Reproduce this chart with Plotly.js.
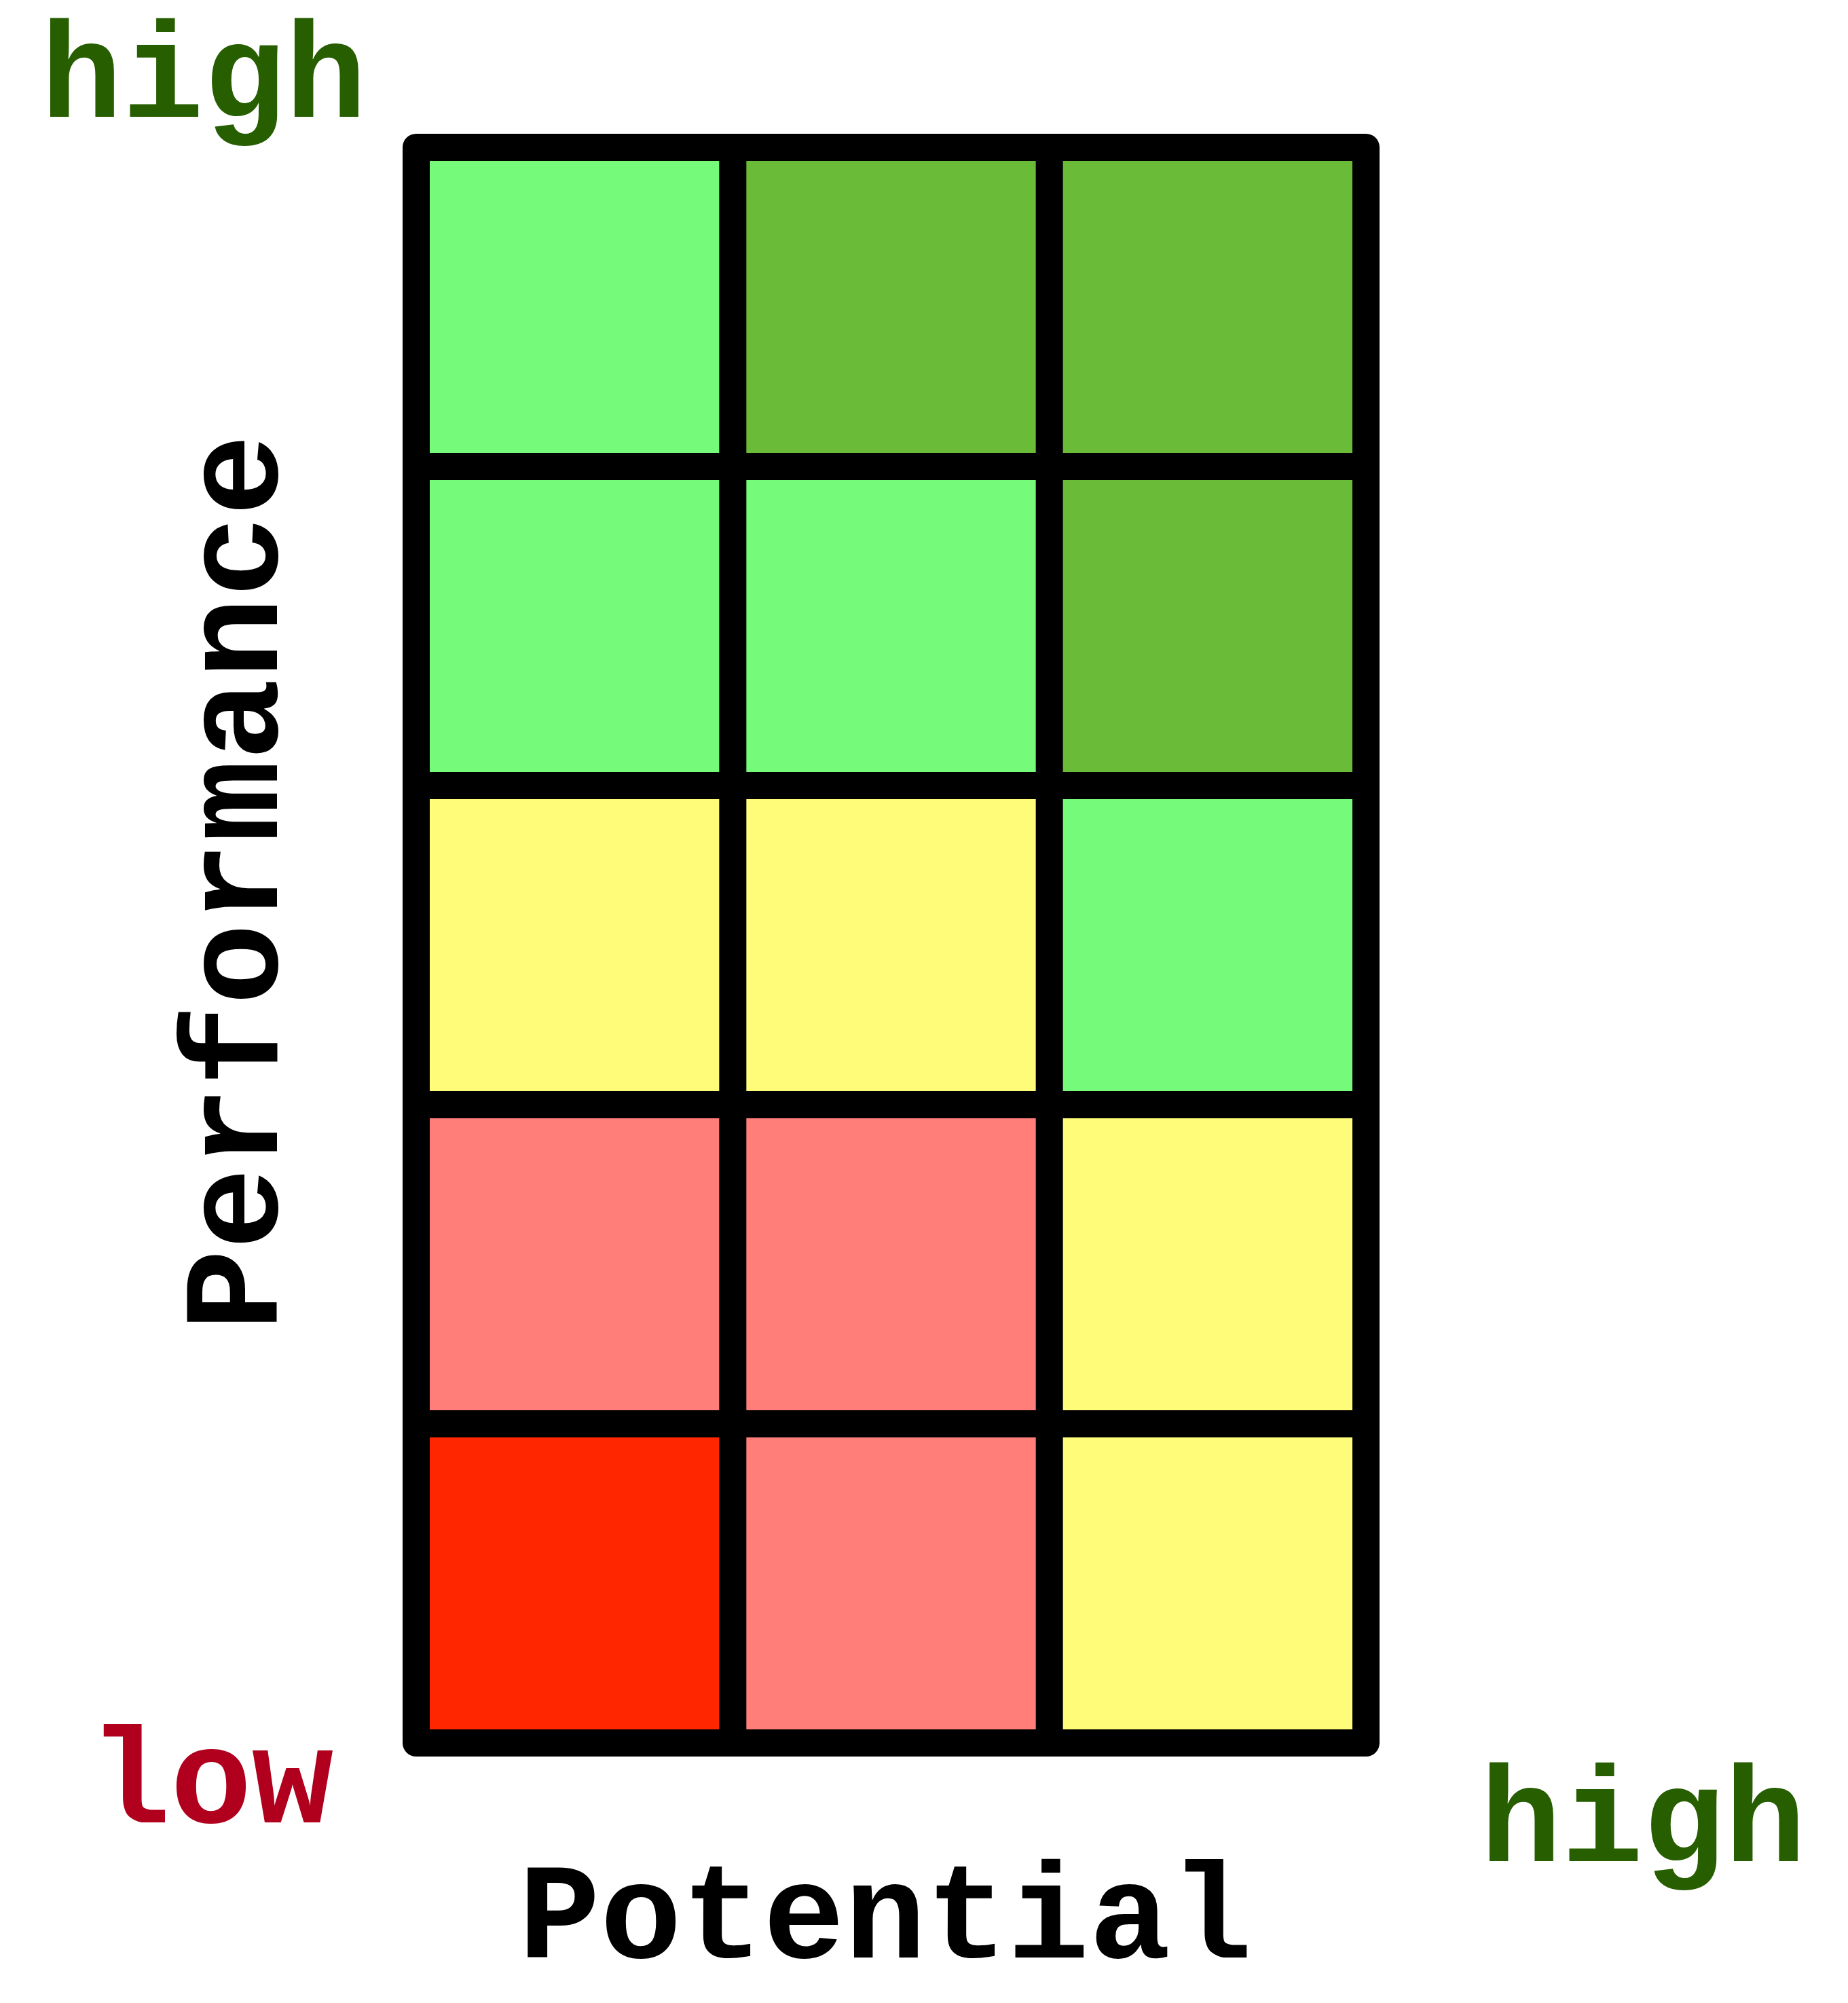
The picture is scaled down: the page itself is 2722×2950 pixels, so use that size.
<!DOCTYPE html>
<html>
<head>
<meta charset="utf-8">
<script src="https://cdn.plot.ly/plotly-3.0.1.min.js"></script>
<style>
html, body { margin: 0; padding: 0; background: #ffffff; }
#chart { width: 2722px; height: 2950px; }
.scatterlayer path.js-line { stroke-linejoin: round; stroke-linecap: round; }
</style>
</head>
<body>
<div id="chart"></div>
<script>
// ---- data ----
const potential = ["low", "medium", "high"];            // x categories (left to right)
const performance = ["1", "2", "3", "4", "5"];          // y categories (bottom to top)
// rating level for each cell, rows = performance (bottom to top), cols = potential
const rating = [
  [0, 1, 2],
  [1, 1, 2],
  [2, 2, 3],
  [3, 3, 4],
  [3, 4, 4]
];
const ratingColors = ["#FF2600", "#FF7E79", "#FFFC79", "#75FB79", "#6ABB37"];
const axisTitles = ["Potential", "Performance"];
const cornerLabels = ["high", "low", "high"];
const cornerColors = ["#265E00", "#B0001E", "#265E00"];

// ---- layout geometry ----
const W = 2722, H = 2950;
const gridLeft = 613, gridRight = 2012, gridTop = 217, gridBottom = 2567;
const pad = 40;
const nx = potential.length, ny = performance.length;
const cellW = (gridRight - gridLeft) / nx;
const cellH = (gridBottom - gridTop) / ny;
const ml = gridLeft - pad, mr = W - gridRight - pad, mt = gridTop - pad, mb = H - gridBottom - pad;
const plotW = W - ml - mr, plotH = H - mt - mb;
const px2x = px => (px - ml) / plotW;
const py2y = py => (H - mb - py) / plotH;

const xIdx = potential.map((_, i) => i);
const yIdx = performance.map((_, i) => i);

// colorscale: one colour per rating level
const nLev = ratingColors.length;
const colorscale = ratingColors.map((c, i) => [i / (nLev - 1), c]);

// grid lines along the cell boundaries
const gx = [], gy = [];
// outer frame
gx.push(-0.5, nx - 0.5, nx - 0.5, -0.5, -0.5, null);
gy.push(-0.5, -0.5, ny - 0.5, ny - 0.5, -0.5, null);
for (let i = 1; i < nx; i++) { gx.push(i - 0.5, i - 0.5, null); gy.push(-0.5, ny - 0.5, null); }
for (let j = 1; j < ny; j++) { gx.push(-0.5, nx - 0.5, null); gy.push(j - 0.5, j - 0.5, null); }

const fontFamily = "Liberation Mono, Courier New, monospace";

const traces = [
  {
    type: "heatmap",
    x: xIdx, y: yIdx, z: rating,
    zmin: 0, zmax: nLev - 1,
    colorscale: colorscale,
    showscale: false,
    hoverinfo: "skip"
  },
  {
    type: "scatter", mode: "lines",
    x: gx, y: gy,
    connectgaps: false,
    line: { color: "#000000", width: 40 },
    hoverinfo: "skip",
    cliponaxis: false,
    showlegend: false
  }
];

const annFont = (color) => ({ family: fontFamily, size: 200, color: color, weight: "bold" });

const layout = {
  width: W, height: H,
  margin: { l: ml, r: mr, t: mt, b: mb, pad: 0 },
  paper_bgcolor: "#ffffff",
  plot_bgcolor: "#ffffff",
  showlegend: false,
  xaxis: {
    range: [-0.5 - pad / cellW, nx - 0.5 + pad / cellW],
    tickvals: xIdx, ticktext: potential,
    showticklabels: false, showgrid: false, zeroline: false, showline: false, ticks: "",
    fixedrange: true
  },
  yaxis: {
    range: [-0.5 - pad / cellH, ny - 0.5 + pad / cellH],
    tickvals: yIdx, ticktext: performance,
    showticklabels: false, showgrid: false, zeroline: false, showline: false, ticks: "",
    fixedrange: true
  },
  annotations: [
    { text: axisTitles[0], xref: "paper", yref: "paper", x: px2x(1304), y: py2y(2830),
      xanchor: "center", yanchor: "middle", showarrow: false, font: annFont("#000000") },
    { text: axisTitles[1], xref: "paper", yref: "paper", x: px2x(354), y: py2y(1300),
      xanchor: "center", yanchor: "middle", textangle: -90, showarrow: false, font: annFont("#000000") },
    { text: cornerLabels[0], xref: "paper", yref: "paper", x: px2x(300), y: py2y(119),
      xanchor: "center", yanchor: "middle", showarrow: false, font: annFont(cornerColors[0]) },
    { text: cornerLabels[1], xref: "paper", yref: "paper", x: px2x(311), y: py2y(2630),
      xanchor: "center", yanchor: "middle", showarrow: false, font: annFont(cornerColors[1]) },
    { text: cornerLabels[2], xref: "paper", yref: "paper", x: px2x(2420), y: py2y(2687),
      xanchor: "center", yanchor: "middle", showarrow: false, font: annFont(cornerColors[2]) }
  ]
};

Plotly.newPlot("chart", traces, layout, { displayModeBar: false, staticPlot: true });
</script>
</body>
</html>
